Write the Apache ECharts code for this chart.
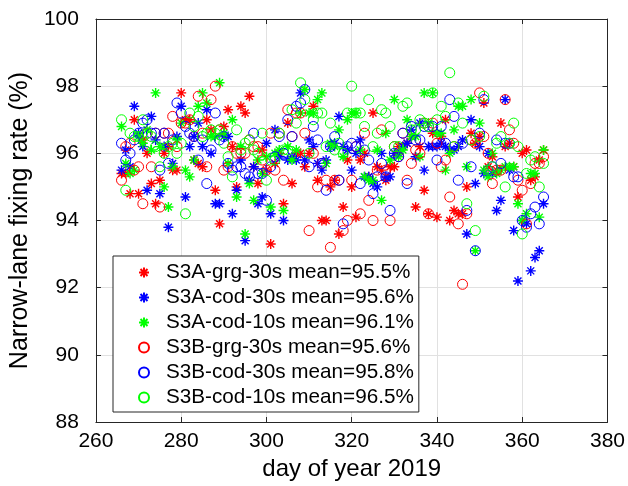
<!DOCTYPE html>
<html><head><meta charset="utf-8">
<script src="https://cdn.jsdelivr.net/npm/echarts@6/dist/echarts.min.js"></script>
<style>html,body{margin:0;padding:0;background:#fff}#c{width:628px;height:486px}</style>
</head><body><div id="c"></div>
<script>
const days = [266,267,268,269,270,271,272,273,274,275,276,277,278,279,280,281,282,283,284,285,286,287,288,289,290,291,292,293,294,295,296,297,298,299,300,301,302,303,304,305,306,307,308,309,310,311,312,313,314,315,316,317,318,319,320,321,322,323,324,325,326,327,328,329,330,331,332,333,334,335,336,337,338,339,340,341,342,343,344,345,346,347,348,349,350,351,352,353,354,355,356,357,358,359,360,361,362,363,364,365];
const s3aGrg30 = [95.4,95.4,94.8,97.0,94.8,96.4,96.0,95.1,94.5,95.2,96.0,96.2,95.5,95.5,97.8,97.0,97.0,95.8,95.7,95.6,97.0,96.7,94.9,93.9,96.8,97.3,96.2,95.0,97.4,97.2,97.7,95.6,95.1,96.1,95.5,93.3,95.7,96.0,94.5,96.9,95.1,96.0,96.0,95.6,96.0,97.4,95.2,94.0,94.0,95.0,95.2,93.6,94.4,95.8,95.0,94.1,95.8,96.0,95.3,97.2,95.6,95.5,95.2,95.6,95.6,96.2,96.2,96.3,96.5,94.4,96.2,94.9,94.2,96.6,94.1,96.5,97.0,94.0,94.3,94.2,94.2,95.0,96.6,96.3,96.5,97.5,95.6,95.9,95.5,96.9,96.2,96.3,95.6,94.7,96.0,96.1,95.2,95.3,95.8,96.1];
const s3aCod30 = [95.5,96.1,95.6,97.4,96.6,96.2,94.9,97.1,96.4,94.8,96.2,93.8,95.7,96.5,97.4,94.7,96.2,96.5,96.9,96.2,97.3,96.0,94.5,94.5,96.5,96.5,94.2,94.9,95.8,93.4,95.2,95.6,94.5,94.7,96.3,94.2,96.7,95.9,94.0,95.8,95.9,95.8,97.8,95.8,96.4,96.2,95.7,95.5,95.8,96.2,96.3,97.1,96.2,96.1,95.5,96.0,96.4,95.3,95.3,95.1,95.0,96.0,95.3,95.3,96.0,96.0,96.2,96.3,96.7,95.9,96.9,95.5,96.2,96.2,96.2,96.3,96.2,96.1,96.1,96.2,96.4,93.6,97.0,95.1,96.2,95.4,96.0,95.4,94.3,94.6,97.6,95.5,93.7,92.2,94.0,93.9,92.5,92.9,93.1,94.5];
const s3aCod10 = [96.8,95.7,95.4,95.5,96.5,96.3,96.7,96.1,97.8,96.2,95.0,94.4,95.6,96.4,96.9,95.5,95.3,95.8,97.4,97.8,97.5,96.5,96.5,98.1,96.6,95.7,97.0,94.7,96.2,93.6,95.1,94.6,95.8,95.4,95.9,94.4,96.0,96.1,94.3,96.2,95.8,96.1,97.2,97.9,97.2,97.2,97.6,97.8,95.7,96.3,96.2,96.7,95.9,97.0,97.2,97.2,96.1,95.3,95.2,95.2,96.1,94.6,96.6,95.8,97.6,95.9,96.1,97.0,96.5,96.5,95.9,97.8,96.9,97.8,96.6,96.6,95.5,96.0,96.7,97.4,97.4,95.6,97.6,93.1,96.9,95.5,95.3,96.0,95.4,95.5,95.6,95.6,95.6,94.5,94.0,94.2,95.4,95.4,94.1,96.1];
const s3bGrg30 = [95.2,96.2,96.3,95.5,95.6,94.5,96.6,95.6,96.6,94.4,96.6,96.6,97.1,96.2,96.9,96.9,97.0,96.5,97.7,96.6,95.6,97.6,98.0,96.7,95.5,95.6,96.2,96.0,96.0,96.0,96.4,96.2,96.2,95.8,95.5,96.6,95.5,96.6,95.2,97.3,96.5,97.2,97.2,96.6,93.7,96.0,95.0,95.7,95.2,93.2,95.2,95.2,93.7,94.0,95.2,96.2,94.2,96.6,94.6,94.0,95.5,96.7,95.5,94.0,96.2,95.9,96.6,95.2,95.7,96.1,96.0,96.9,94.2,96.9,96.3,95.6,95.8,94.7,96.2,93.9,92.1,94.2,96.4,96.3,97.8,96.5,96.0,95.1,95.5,95.5,97.6,96.7,96.3,95.2,94.9,93.9,95.1,95.7,95.7,95.9];
const s3bCod30 = [96.3,95.8,96.0,96.4,96.6,96.9,97.0,96.6,96.6,95.5,96.6,95.7,96.4,97.5,97.2,96.8,96.6,96.5,95.8,96.4,95.1,96.1,97.2,96.4,96.5,95.7,95.5,95.6,95.6,95.4,95.3,96.6,95.4,95.4,94.6,95.6,95.9,96.5,96.0,97.0,96.5,97.4,97.5,97.9,95.6,96.8,96.4,95.7,94.9,96.2,96.5,95.2,93.9,96.2,96.3,96.2,95.1,96.1,95.8,94.8,95.3,95.7,95.3,94.3,96.0,95.9,96.6,95.1,96.8,96.4,96.4,96.8,96.8,96.8,95.8,96.8,96.3,97.6,97.1,95.2,96.3,94.3,95.6,93.1,96.6,97.6,95.5,95.6,96.4,95.7,96.3,96.3,95.3,95.3,94.0,93.8,94.2,94.4,93.9,94.7];
const s3bCod10 = [97.0,94.9,96.6,96.5,96.5,97.0,96.6,96.5,96.2,95.6,96.0,96.2,96.3,96.0,96.3,94.2,97.2,96.8,97.1,96.5,96.6,96.7,96.6,96.7,96.3,95.9,95.3,96.7,96.1,96.3,96.4,96.1,96.0,96.6,95.2,95.8,95.8,96.6,96.1,96.1,97.3,96.9,98.1,97.6,96.0,97.0,97.2,97.2,96.2,96.9,96.1,96.3,96.0,97.2,98.0,97.2,97.2,96.8,97.6,96.2,96.6,97.3,97.2,96.8,96.2,96.2,97.4,97.5,96.7,96.7,97.0,96.9,96.8,97.8,97.0,97.4,97.1,98.4,96.2,97.5,96.9,94.5,96.4,93.7,96.5,97.7,95.5,95.6,96.3,96.5,95.0,96.3,96.9,96.2,93.6,95.4,95.8,95.9,95.0,95.7];
const seriesNames = ['S3A-grg-30s mean=95.5%','S3A-cod-30s mean=95.6%','S3A-cod-10s mean=96.1%','S3B-grg-30s mean=95.6%','S3B-cod-30s mean=95.8%','S3B-cod-10s mean=96.5%'];
const seriesColors = ['#ff0000','#0000ff','#00ff00','#ff0000','#0000ff','#00ff00'];
const seriesValues = [s3aGrg30,s3aCod30,s3aCod10,s3bGrg30,s3bCod30,s3bCod10];

const STAR = 'path://M5,0L5,10M0,5L10,5M1.5,1.5L8.5,8.5M8.5,1.5L1.5,8.5';
const FONT = '"Liberation Sans", Arial, Helvetica, sans-serif';
const AX = '#262626';

const series = seriesValues.map((vals, k) => {
  const isStar = k < 3;
  return {
    name: seriesNames[k],
    type: 'scatter',
    symbol: isStar ? STAR : 'circle',
    symbolSize: isStar ? 10 : 10,
    itemStyle: {
      color: isStar ? seriesColors[k] : 'rgba(0,0,0,0)',
      borderColor: seriesColors[k],
      borderWidth: isStar ? 1.4 : 1,
      opacity: 1
    },
    emphasis: {disabled: true},
    data: days.map((d, i) => [d, vals[i]]),
    z: 2 + k * 0.01
  };
});

const tickStyle = {inside: true, length: 5, lineStyle: {color: AX, width: 1}};
const lineStyle = {show: true, onZero: false, lineStyle: {color: AX, width: 1}};

const chart = echarts.init(document.getElementById('c'), null, {renderer: 'canvas'});
chart.setOption({
  animation: false,
  backgroundColor: '#fff',
  grid: {left: 85, right: 20, top: 19, bottom: 63, containLabel: false},
  xAxis: [
    {type: 'value', min: 260, max: 380, interval: 20, position: 'bottom',
     axisLine: lineStyle, axisTick: tickStyle,
     axisLabel: {fontSize: 21, color: '#000', fontFamily: FONT, margin: 9},
     splitLine: {show: true, lineStyle: {color: '#e1e1e1', width: 1}},
     name: 'day of year 2019', nameLocation: 'middle', nameGap: 35,
     nameTextStyle: {fontSize: 24, color: '#000', fontFamily: FONT}},
    {type: 'value', min: 260, max: 380, interval: 20, position: 'top',
     axisLine: lineStyle, axisTick: tickStyle, axisLabel: {show: false}, splitLine: {show: false}}
  ],
  yAxis: [
    {type: 'value', min: 88, max: 100, interval: 2, position: 'left',
     axisLine: lineStyle, axisTick: tickStyle,
     axisLabel: {fontSize: 21, color: '#000', fontFamily: FONT, margin: 17},
     splitLine: {show: true, lineStyle: {color: '#e1e1e1', width: 1}},
     name: 'Narrow-lane fixing rate (%)', nameLocation: 'middle', nameGap: 50,
     nameTextStyle: {fontSize: 25, color: '#000', fontFamily: FONT}},
    {type: 'value', min: 88, max: 100, interval: 2, position: 'right',
     axisLine: lineStyle, axisTick: tickStyle, axisLabel: {show: false}, splitLine: {show: false}}
  ],
  legend: {
    orient: 'vertical', left: 113, top: 256,
    itemWidth: 10, itemHeight: 10, itemGap: 4,
    padding: [6, 5, 4, 25],
    borderColor: AX, borderWidth: 1, backgroundColor: '#fff',
    textStyle: {fontSize: 20.7, color: '#000', fontFamily: FONT, padding: [0, 0, 0, 12]},
    data: seriesNames.map((n, k) => ({name: n, icon: k < 3 ? STAR : 'circle'})),
    selectedMode: false
  },
  series: series
});
</script></body></html>
